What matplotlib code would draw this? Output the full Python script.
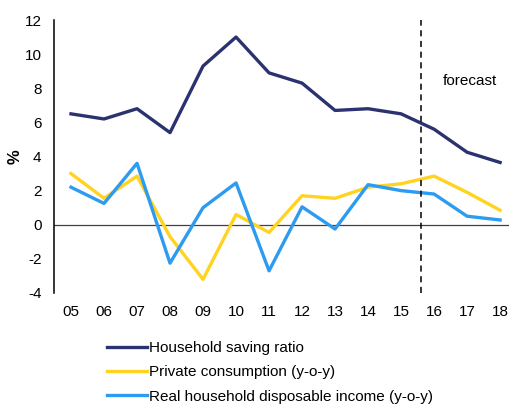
import matplotlib
matplotlib.use("Agg")
import matplotlib.pyplot as plt

plt.rcParams['font.family'] = ['Liberation Sans', 'DejaVu Sans']
plt.rcParams['axes.unicode_minus'] = False

years = [5, 6, 7, 8, 9, 10, 11, 12, 13, 14, 15, 16, 17, 18]
year_labels = ['05', '06', '07', '08', '09', '10', '11', '12', '13', '14', '15', '16', '17', '18']

saving = [6.5, 6.2, 6.8, 5.4, 9.3, 11.0, 8.9, 8.3, 6.7, 6.8, 6.5, 5.6, 4.25, 3.65]
consumption = [3.0, 1.55, 2.85, -0.7, -3.2, 0.6, -0.45, 1.7, 1.55, 2.2, 2.4, 2.85, 1.9, 0.85]
income = [2.2, 1.25, 3.6, -2.25, 1.0, 2.45, -2.7, 1.05, -0.25, 2.35, 2.0, 1.8, 0.5, 0.28]

forecast_x = 15.6

fig = plt.figure(figsize=(5.1, 4.13), dpi=100)
ax = fig.add_axes([54/510, 1 - 293/413, 456/510, 273/413])

ax.plot(years, saving, color='#2B3270', lw=2.4, label='Household saving ratio')
ax.plot(years, consumption, color='#FFD320', lw=2.4, label='Private consumption (y-o-y)')
ax.plot(years, income, color='#2C9BF0', lw=2.4, label='Real household disposable income (y-o-y)')

ax.axhline(0, color='#404040', lw=0.9, zorder=0)
ax.axvline(forecast_x, color='black', lw=1.1, ls=(0, (4, 3)))
ax.text(16.25, 8.45, 'forecast', fontsize=11, ha='left', va='center')

ax.set_xlim(4.485, 18.3)
ax.set_ylim(-4, 12)
ax.set_yticks(range(-4, 13, 2))
ax.set_xticks(years)
ax.set_xticklabels(year_labels)
ax.tick_params(axis='both', length=0, labelsize=11)
ax.tick_params(axis='y', pad=9)
ax.tick_params(axis='x', pad=9)
for s in ['top', 'right', 'bottom']:
    ax.spines[s].set_visible(False)
ax.spines['left'].set_linewidth(1.1)
ax.set_ylabel('%', fontsize=12, fontweight='bold', labelpad=1)

ax.legend(loc='upper left', bbox_to_anchor=(107/510, 1 - 341/413), bbox_transform=fig.transFigure,
          frameon=False, fontsize=11, handlelength=2.6, handletextpad=0.15,
          labelspacing=0.68, borderaxespad=0, borderpad=0)

fig.savefig('out.png', dpi=100)
